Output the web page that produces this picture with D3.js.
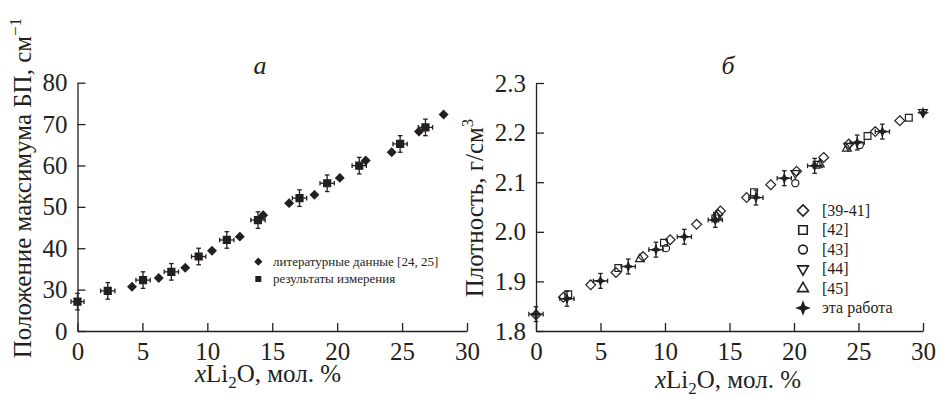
<!DOCTYPE html>
<html>
<head>
<meta charset="utf-8">
<script src="https://cdn.jsdelivr.net/npm/d3@7"></script>
<style>
  html, body { margin: 0; padding: 0; background: #fff; }
  svg { display: block; }
  svg text { font-family: "Liberation Serif", "DejaVu Serif", "Noto Serif", serif !important; }
  .axis path, .axis line { stroke: #231f20; stroke-width: 1.3; }
  .axis text { font-size: 25px; fill: #231f20; }
</style>
</head>
<body>
<svg id="chart" width="938" height="397"></svg>
<script>
// --- панель а: положение максимума БП ---
const litX = [4.2, 6.26, 8.3, 10.36, 12.5, 14.3, 16.3, 18.25, 20.2, 22.2, 24.2, 26.3, 28.2];
const litY = [30.7, 32.8, 35.3, 39.4, 42.8, 48.0, 50.9, 52.9, 57.0, 61.2, 63.2, 68.2, 72.3];
const measX = [0, 2.33, 5.05, 7.23, 9.33, 11.5, 13.9, 17.1, 19.23, 21.7, 24.85, 26.8];
const measY = [27.1, 29.7, 32.3, 34.3, 38.0, 42.0, 46.8, 52.1, 55.7, 59.95, 65.2, 69.2];
const measXErr = [0.5, 0.55, 0.55, 0.55, 0.55, 0.55, 0.55, 0.55, 0.55, 0.55, 0.55, 0.55];
const measYErr = [2, 2, 2, 2, 2, 2, 2, 2, 2, 2, 2, 2];
const ticksA = [20, 30, 40, 50, 60, 70, 80];
const tickLabelsA = ['0', '30', '40', '50', '60', '70', '80'];

// --- панель б: плотность ---
const d39X = [0, 2.12, 4.24, 6.2, 8.3, 10.4, 12.45, 14.1, 14.3, 16.33, 18.2, 20.2, 22.3, 24.25, 26.3, 28.2];
const d39Y = [1.833, 1.868, 1.893, 1.918, 1.950, 1.984, 2.015, 2.035, 2.042, 2.069, 2.095, 2.122, 2.150, 2.177, 2.202, 2.224];
const d42X = [2.5, 6.38, 9.92, 13.9, 16.9, 21.75, 25.7, 28.9];
const d42Y = [1.874, 1.927, 1.978, 2.027, 2.080, 2.135, 2.193, 2.230];
const d43X = [10.08, 20.1, 25.1];
const d43Y = [1.967, 2.098, 2.175];
const d44X = [20.1, 24.2, 30.0];
const d44Y = [2.118, 2.173, 2.241];
const d45X = [8.06, 14.0, 22.0, 24.1];
const d45Y = [1.945, 2.031, 2.136, 2.168];
const workX = [0, 2.4, 5.0, 7.15, 9.3, 11.5, 13.9, 17.05, 19.25, 21.6, 24.9, 26.85, 30.0];
const workY = [1.834, 1.865, 1.901, 1.930, 1.964, 1.990, 2.024, 2.069, 2.108, 2.133, 2.180, 2.202, 2.240];
const workXErr = [0.55, 0.55, 0.55, 0.55, 0.55, 0.55, 0.55, 0.55, 0.55, 0.55, 0.55, 0.55, 0];
const workYErr = [0.015, 0.015, 0.015, 0.015, 0.015, 0.015, 0.015, 0.015, 0.015, 0.015, 0.015, 0.015, 0];
const ticksB = [1.8, 1.9, 2.0, 2.1, 2.2, 2.3];
const xTicks = [0, 5, 10, 15, 20, 25, 30];

const ink = '#231f20';
const serif = '"Liberation Serif", "DejaVu Serif", serif';
const svg = d3.select('#chart');

// свои символы: ромб (квадрат на угол), треугольники и четырёхлучевая звезда
const symDiamond = {
  draw(ctx, size) {
    const r = Math.sqrt(size / 2);
    ctx.moveTo(0, -r); ctx.lineTo(r, 0); ctx.lineTo(0, r); ctx.lineTo(-r, 0); ctx.closePath();
  }
};
const symStar4 = {
  draw(ctx, size) {
    const r = Math.sqrt(size) * 0.8, k = r * 0.28;
    ctx.moveTo(0, -r); ctx.lineTo(k, -k); ctx.lineTo(r, 0); ctx.lineTo(k, k);
    ctx.lineTo(0, r); ctx.lineTo(-k, k); ctx.lineTo(-r, 0); ctx.lineTo(-k, -k); ctx.closePath();
  }
};
const symDown = {
  draw(ctx, size) {
    const s = Math.sqrt(size / (Math.sqrt(3) / 4));
    const h = s * Math.sqrt(3) / 2;
    ctx.moveTo(-s / 2, -h / 3); ctx.lineTo(s / 2, -h / 3); ctx.lineTo(0, 2 * h / 3); ctx.closePath();
  }
};
const symUp = {
  draw(ctx, size) {
    const s = Math.sqrt(size / (Math.sqrt(3) / 4));
    const h = s * Math.sqrt(3) / 2;
    ctx.moveTo(-s / 2, h / 3); ctx.lineTo(s / 2, h / 3); ctx.lineTo(0, -2 * h / 3); ctx.closePath();
  }
};

function zip(xs, ys) { return xs.map((x, i) => ({ x, y: ys[i] })); }

function drawAxes(g, x, y, yTicks, yFmt) {
  const ax = g.append('g').attr('class', 'axis')
    .attr('transform', `translate(0,${y.range()[0]})`)
    .call(d3.axisBottom(x).tickValues(xTicks).tickSize(-8).tickSizeOuter(0).tickPadding(11));
  const ay = g.append('g').attr('class', 'axis')
    .attr('transform', `translate(${x.range()[0]},0)`)
    .call(d3.axisLeft(y).tickValues(yTicks).tickFormat(yFmt).tickSize(-8).tickSizeOuter(0).tickPadding(10));
  g.selectAll('.axis').attr('font-family', serif);
  return [ax, ay];
}

function errorBars(g, data, x, y, cap) {
  const eb = g.append('g').attr('stroke', ink).attr('stroke-width', 1.3);
  data.forEach(d => {
    if (d.ey > 0) {
      eb.append('line').attr('x1', x(d.x)).attr('x2', x(d.x)).attr('y1', y(d.y - d.ey)).attr('y2', y(d.y + d.ey));
      eb.append('line').attr('x1', x(d.x) - cap).attr('x2', x(d.x) + cap).attr('y1', y(d.y - d.ey)).attr('y2', y(d.y - d.ey));
      eb.append('line').attr('x1', x(d.x) - cap).attr('x2', x(d.x) + cap).attr('y1', y(d.y + d.ey)).attr('y2', y(d.y + d.ey));
    }
    if (d.ex > 0) {
      eb.append('line').attr('x1', x(d.x - d.ex)).attr('x2', x(d.x + d.ex)).attr('y1', y(d.y)).attr('y2', y(d.y));
      eb.append('line').attr('x1', x(d.x - d.ex)).attr('x2', x(d.x - d.ex)).attr('y1', y(d.y) - cap).attr('y2', y(d.y) + cap);
      eb.append('line').attr('x1', x(d.x + d.ex)).attr('x2', x(d.x + d.ex)).attr('y1', y(d.y) - cap).attr('y2', y(d.y) + cap);
    }
  });
}

function points(g, data, x, y, type, size, filled) {
  g.append('g').selectAll('path').data(data).enter().append('path')
    .attr('d', d3.symbol().type(type).size(size))
    .attr('transform', d => `translate(${x(d.x)},${y(d.y)})`)
    .attr('fill', filled ? ink : 'none')
    .attr('stroke', ink)
    .attr('stroke-width', 1.2);
}

function xTitle(g, cx, cy) {
  const t = g.append('text').attr('x', cx).attr('y', cy).attr('text-anchor', 'middle')
    .attr('font-family', serif).attr('font-size', 25).attr('fill', ink);
  t.append('tspan').attr('font-style', 'italic').text('x');
  t.append('tspan').text('Li');
  t.append('tspan').attr('dy', 6).attr('font-size', 17).text('2');
  t.append('tspan').attr('dy', -6).text('O, мол. %');
}

// ================= панель а =================
const xA = d3.scaleLinear().domain([0, 30]).range([77.5, 467]);
const yA = d3.scaleLinear().domain([20, 80]).range([331, 82.7]);
const gA = svg.append('g');
drawAxes(gA, xA, yA, ticksA, d => tickLabelsA[ticksA.indexOf(d)]);

const measData = measX.map((x, i) => ({ x, y: measY[i], ex: measXErr[i], ey: measYErr[i] }));
errorBars(gA, measData, xA, yA, 2.3);
points(gA, measData, xA, yA, d3.symbolSquare, 49, true);
points(gA, zip(litX, litY), xA, yA, symDiamond, 34, true);

gA.append('text').attr('x', 260).attr('y', 74).attr('text-anchor', 'middle')
  .attr('font-family', serif).attr('font-size', 26).attr('font-style', 'italic').attr('fill', ink).text('а');

const titleA = gA.append('text').attr('transform', 'translate(31,188) rotate(-90)')
  .attr('text-anchor', 'middle').attr('font-family', serif).attr('font-size', 25).attr('fill', ink);
titleA.append('tspan').text('Положение максимума БП, см');
titleA.append('tspan').attr('dy', -10).attr('font-size', 17).text('−1');

xTitle(gA, 268, 382);

// легенда а
const legA = gA.append('g');
const legAItems = [
  { label: 'литературные данные [24, 25]', type: symDiamond, size: 34 },
  { label: 'результаты измерения', type: d3.symbolSquare, size: 36 }
];
legAItems.forEach((it, i) => {
  const yy = 261.7 + i * 17.3;
  legA.append('path').attr('d', d3.symbol().type(it.type).size(it.size))
    .attr('transform', `translate(258.3,${yy})`).attr('fill', ink);
  legA.append('text').attr('x', 273).attr('y', yy + 4).attr('font-family', serif)
    .attr('font-size', 13).attr('fill', ink).text(it.label);
});

// ================= панель б =================
const xB = d3.scaleLinear().domain([0, 30]).range([536, 923]);
const yB = d3.scaleLinear().domain([1.8, 2.3]).range([331, 83]);
const gB = svg.append('g');
drawAxes(gB, xB, yB, ticksB, d3.format('.1f'));

points(gB, zip(d39X, d39Y), xB, yB, symDiamond, 48, false);
points(gB, zip(d42X, d42Y), xB, yB, d3.symbolSquare, 46, false);
points(gB, zip(d43X, d43Y), xB, yB, d3.symbolCircle, 40, false);
points(gB, zip(d44X, d44Y), xB, yB, symDown, 34, false);
points(gB, zip(d45X, d45Y), xB, yB, symUp, 34, false);
const workData = workX.map((x, i) => ({ x, y: workY[i], ex: workXErr[i], ey: workYErr[i] }));
errorBars(gB, workData, xB, yB, 2.3);
points(gB, workData, xB, yB, symStar4, 30, true);

gB.append('text').attr('x', 728).attr('y', 74).attr('text-anchor', 'middle')
  .attr('font-family', serif).attr('font-size', 26).attr('font-style', 'italic').attr('fill', ink).text('б');

const titleB = gB.append('text').attr('transform', 'translate(483,208) rotate(-90)')
  .attr('text-anchor', 'middle').attr('font-family', serif).attr('font-size', 25).attr('fill', ink);
titleB.append('tspan').text('Плотность, г/см');
titleB.append('tspan').attr('dy', -10).attr('font-size', 17).text('3');

xTitle(gB, 728, 388);

// легенда б
const legB = gB.append('g');
const legBItems = [
  { label: '[39-41]', type: symDiamond, size: 62, filled: false },
  { label: '[42]', type: d3.symbolSquare, size: 72, filled: false },
  { label: '[43]', type: d3.symbolCircle, size: 60, filled: false },
  { label: '[44]', type: symDown, size: 50, filled: false },
  { label: '[45]', type: symUp, size: 50, filled: false },
  { label: 'эта работа', type: symStar4, size: 50, filled: true }
];
legBItems.forEach((it, i) => {
  const yy = 210.5 + i * 19.5;
  legB.append('path').attr('d', d3.symbol().type(it.type).size(it.size))
    .attr('transform', `translate(803,${yy})`)
    .attr('fill', it.filled ? ink : 'none').attr('stroke', ink).attr('stroke-width', 1.6);
  legB.append('text').attr('x', 822).attr('y', yy + 5).attr('font-family', serif)
    .attr('font-size', 16).attr('fill', ink).text(it.label);
});
</script>
</body>
</html>
